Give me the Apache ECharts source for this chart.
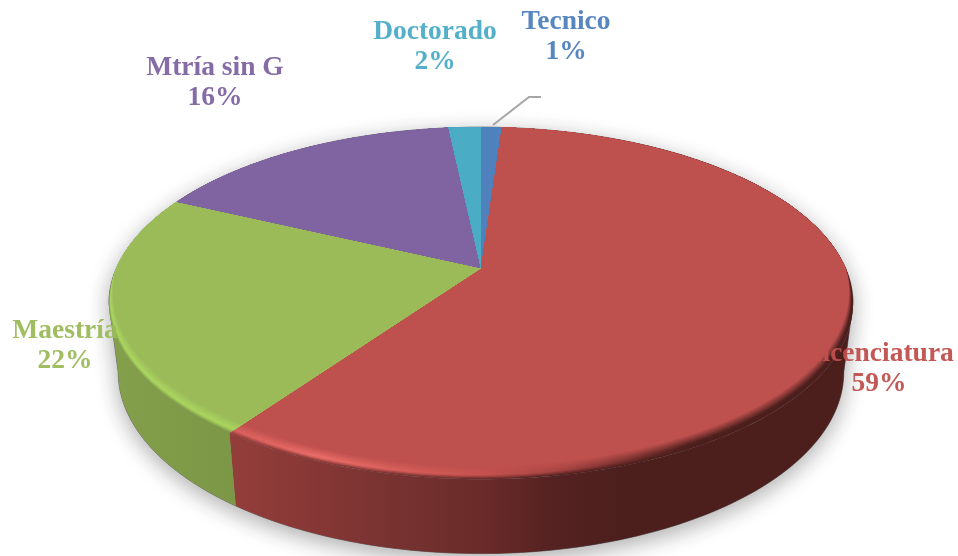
<!DOCTYPE html>
<html><head><meta charset="utf-8">
<style>html,body{margin:0;padding:0;background:#fff}#c{width:958px;height:556px}</style>
<script src="https://cdn.jsdelivr.net/npm/echarts@6/dist/echarts.min.js"></script>
</head><body><div id="c"></div>
<script>
// Data (clockwise from 12 o'clock)
const categories = ['Tecnico', 'Licenciatura', 'Maestría', 'Mtría sin G', 'Doctorado'];
const values = [1.1, 58.7, 22.2, 16.3, 1.7];

// Style / layout, separate from the data
const faceColors = ['#4F81BD', '#BE504D', '#9BBB59', '#8064A2', '#4BACC6'];
const labelColors = ['#4F81BD', '#C0504D', '#9BBB59', '#8064A2', '#4BACC6'];
const labelAt = [[566, 37], [879, 369], [65, 346], [215, 83], [435, 47]];
const P = {px: 481, py: 268, A: 364.5, B: 169, t: 0.2, drop: 68, baseX: 0.975, baseY: 1.03};
const TAN_R = 1.772, TAN_L = 4.511;

function project(theta) {
  const u = Math.sin(theta), v = -Math.cos(theta), w = 1 - P.t * v;
  return {x: P.A * u / w, y: P.B * v / w, v: v};
}
function rimTop(theta) { const p = project(theta); return [P.px + p.x, P.py + p.y]; }
function rimBase(theta) { const p = project(theta); return [P.px + P.baseX * p.x, P.py + P.drop + P.baseY * p.y]; }
function inset(theta, k) { // k 0..1: from the outer rim along its ray into the flat face
  const p = project(theta);
  const f = p.v > 0 ? 0.06 * Math.min(1, p.v * 1.05) : 0;
  const s = 1 - f * k;
  return [P.px + s * p.x, P.py + s * p.y];
}
function arcRange(a0, a1, fn) {
  const out = [], n = Math.max(2, Math.ceil((a1 - a0) / 0.02));
  for (let i = 0; i <= n; i++) out.push(fn(a0 + (a1 - a0) * i / n));
  return out;
}
const total = values.reduce((a, b) => a + b, 0);
const spans = []; { let c = 0; for (const v of values) { const a0 = c / total * 2 * Math.PI; c += v; spans.push([a0, c / total * 2 * Math.PI]); } }

function grad(stops) {
  return new echarts.graphic.LinearGradient(109, 0, 853, 0, stops.map(s => ({offset: s[0], color: s[1]})), true);
}
function lerpColor(a, b, k) {
  const h = s => [1, 3, 5].map(i => parseInt(s.substr(i, 2), 16));
  const A = h(a), B = h(b);
  return '#' + A.map((x, i) => Math.round(x + (B[i] - x) * k).toString(16).padStart(2, '0')).join('');
}
// gradient stops by horizontal offset across the pie (same offsets for wall and edge)
const offsets = [0, 0.16, 0.28, 0.39, 0.5, 0.6, 0.69, 0.78, 1];
const wallColors = {
  1: ['#943e3b', '#943e3b', '#863735', '#763230', '#6a2b29', '#542221', '#4c1f1d', '#4c1f1d', '#4c1f1d'],
  2: ['#84a04b', '#7c9746', '#7c9746', '#7c9746', '#7c9746', '#7c9746', '#7c9746', '#7c9746', '#7c9746']
};
const edgeColors = {
  1: ['#d9605c', '#d9605c', '#ee6e6a', '#da5f5b', '#c8524f', '#a84441', '#7a312f', '#4c1f1d', '#4c1f1d'],
  2: ['#aad65f', '#aad65f', '#aad65f', '#aad65f', '#aad65f', '#aad65f', '#aad65f', '#aad65f', '#aad65f']
};

function facePolygon(a0, a1, k) {
  return [[P.px, P.py]].concat(arcRange(a0, a1, th => inset(th, k)));
}

function renderShadow() {
  const outline = arcRange(TAN_R, TAN_L, rimBase).concat(arcRange(TAN_L, 2 * Math.PI + TAN_R, rimTop));
  return {type: 'polygon', shape: {points: outline},
    style: {fill: '#8a8a8a', stroke: '#6a6a6a', lineWidth: 1, shadowBlur: 22, shadowColor: 'rgba(0,0,0,0.32)', shadowOffsetX: 0, shadowOffsetY: 6}};
}

function renderSlice(params) {
  const i = params.dataIndex, a0 = spans[i][0], a1 = spans[i][1];
  const children = [];
  const w0 = Math.max(a0, TAN_R), w1 = Math.min(a1, TAN_L);
  if (w1 > w0 && wallColors[i]) {
    const pts = arcRange(w0, w1, rimTop).concat(arcRange(w0, w1, rimBase).reverse());
    children.push({type: 'polygon', shape: {points: pts}, style: {fill: grad(offsets.map((o, j) => [o, wallColors[i][j]])), stroke: null}});
  }
  const steps = 12;
  for (let s = 0; s <= steps; s++) {
    const k = s / steps;
    let fill = faceColors[i];
    if (edgeColors[i] && s < steps) {
      fill = grad(offsets.map((o, j) => {
        const col = k < 0.3 ? lerpColor(wallColors[i][j], edgeColors[i][j], k / 0.3)
                            : lerpColor(edgeColors[i][j], faceColors[i], (k - 0.3) / 0.7);
        return [o, col];
      }));
    }
    children.push({type: 'polygon', shape: {points: facePolygon(a0, a1, k)}, style: {fill: fill, stroke: null}});
  }
  return {type: 'group', children};
}

function renderLabel(params) {
  const i = params.dataIndex;
  return {type: 'text', x: labelAt[i][0], y: labelAt[i][1],
    style: {text: categories[i] + '\n' + Math.round(values[i] / total * 100) + '%',
      fill: labelColors[i], font: 'bold 27.5px "Liberation Serif"', align: 'center', verticalAlign: 'middle', lineHeight: 30, opacity: 0.95}};
}

function renderLeader() {
  return {type: 'polyline', shape: {points: [[493, 125], [529, 97], [541, 97]]},
    style: {fill: null, stroke: '#a6a6a6', lineWidth: 2}};
}

const chart = echarts.init(document.getElementById('c'), null, {renderer: 'canvas'});
chart.setOption({
  animation: false,
  backgroundColor: '#ffffff',
  series: [
    {type: 'custom', coordinateSystem: 'none', silent: true, z: 1, renderItem: renderShadow, data: [total]},
    {type: 'custom', coordinateSystem: 'none', silent: true, z: 2, renderItem: renderSlice,
      data: categories.map((c, i) => ({name: c, value: values[i]}))},
    {type: 'custom', coordinateSystem: 'none', silent: true, z: 3, renderItem: renderLeader, data: [total]},
    {type: 'custom', coordinateSystem: 'none', silent: true, z: 4, renderItem: renderLabel,
      data: categories.map((c, i) => ({name: c, value: values[i]}))}
  ]
});
</script></body></html>
